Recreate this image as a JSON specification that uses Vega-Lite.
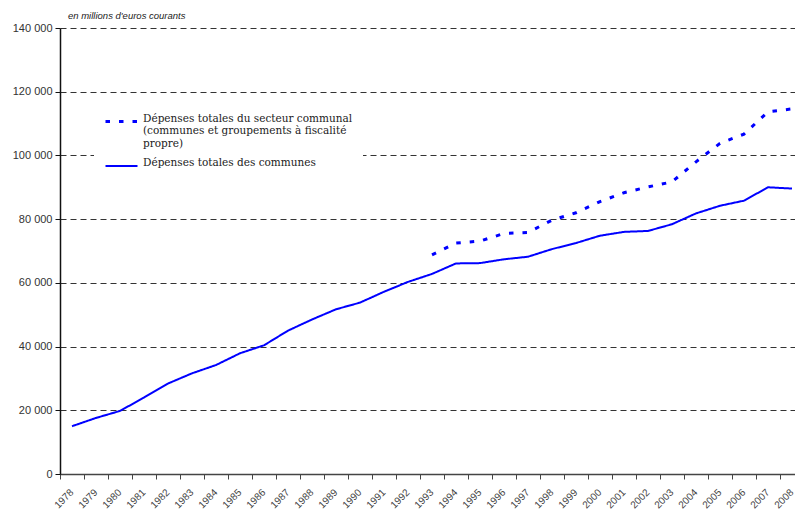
{
  "$schema": "https://vega.github.io/schema/vega-lite/v6.json",
  "width": 735,
  "height": 446,
  "autosize": {"type": "none"},
  "padding": {"left": 60, "top": 28, "right": 0, "bottom": 41},
  "background": "white",
  "config": {
    "view": {"stroke": null},
    "locale": {"number": {"decimal": ",", "thousands": " ", "grouping": [3], "currency": ["", " €"]}}
  },
  "title": {
    "text": "en millions d'euros courants",
    "anchor": "start",
    "frame": "group",
    "fontSize": 9.5,
    "fontStyle": "italic",
    "fontWeight": "normal",
    "font": "Liberation Sans",
    "color": "#222",
    "dx": 8,
    "offset": 2
  },
  "data": {
    "values": [
      {"annee": "1978", "serie": "Dépenses totales des communes", "valeur": 15000},
      {"annee": "1979", "serie": "Dépenses totales des communes", "valeur": 17600},
      {"annee": "1980", "serie": "Dépenses totales des communes", "valeur": 19800},
      {"annee": "1981", "serie": "Dépenses totales des communes", "valeur": 24000},
      {"annee": "1982", "serie": "Dépenses totales des communes", "valeur": 28400},
      {"annee": "1983", "serie": "Dépenses totales des communes", "valeur": 31600},
      {"annee": "1984", "serie": "Dépenses totales des communes", "valeur": 34200},
      {"annee": "1985", "serie": "Dépenses totales des communes", "valeur": 37900},
      {"annee": "1986", "serie": "Dépenses totales des communes", "valeur": 40400},
      {"annee": "1987", "serie": "Dépenses totales des communes", "valeur": 45000},
      {"annee": "1988", "serie": "Dépenses totales des communes", "valeur": 48500},
      {"annee": "1989", "serie": "Dépenses totales des communes", "valeur": 51700},
      {"annee": "1990", "serie": "Dépenses totales des communes", "valeur": 53800},
      {"annee": "1991", "serie": "Dépenses totales des communes", "valeur": 57200},
      {"annee": "1992", "serie": "Dépenses totales des communes", "valeur": 60300},
      {"annee": "1993", "serie": "Dépenses totales des communes", "valeur": 62800},
      {"annee": "1994", "serie": "Dépenses totales des communes", "valeur": 66100},
      {"annee": "1995", "serie": "Dépenses totales des communes", "valeur": 66200},
      {"annee": "1996", "serie": "Dépenses totales des communes", "valeur": 67400},
      {"annee": "1997", "serie": "Dépenses totales des communes", "valeur": 68200},
      {"annee": "1998", "serie": "Dépenses totales des communes", "valeur": 70600},
      {"annee": "1999", "serie": "Dépenses totales des communes", "valeur": 72500},
      {"annee": "2000", "serie": "Dépenses totales des communes", "valeur": 74800},
      {"annee": "2001", "serie": "Dépenses totales des communes", "valeur": 76000},
      {"annee": "2002", "serie": "Dépenses totales des communes", "valeur": 76300},
      {"annee": "2003", "serie": "Dépenses totales des communes", "valeur": 78400},
      {"annee": "2004", "serie": "Dépenses totales des communes", "valeur": 81800},
      {"annee": "2005", "serie": "Dépenses totales des communes", "valeur": 84200},
      {"annee": "2006", "serie": "Dépenses totales des communes", "valeur": 85800},
      {"annee": "2007", "serie": "Dépenses totales des communes", "valeur": 90000},
      {"annee": "2008", "serie": "Dépenses totales des communes", "valeur": 89600},
      {"annee": "1993", "serie": "Dépenses totales du secteur communal", "valeur": 68800},
      {"annee": "1994", "serie": "Dépenses totales du secteur communal", "valeur": 72500},
      {"annee": "1995", "serie": "Dépenses totales du secteur communal", "valeur": 73100},
      {"annee": "1996", "serie": "Dépenses totales du secteur communal", "valeur": 75500},
      {"annee": "1997", "serie": "Dépenses totales du secteur communal", "valeur": 75800},
      {"annee": "1998", "serie": "Dépenses totales du secteur communal", "valeur": 79700},
      {"annee": "1999", "serie": "Dépenses totales du secteur communal", "valeur": 82000},
      {"annee": "2000", "serie": "Dépenses totales du secteur communal", "valeur": 85500},
      {"annee": "2001", "serie": "Dépenses totales du secteur communal", "valeur": 88300},
      {"annee": "2002", "serie": "Dépenses totales du secteur communal", "valeur": 90100},
      {"annee": "2003", "serie": "Dépenses totales du secteur communal", "valeur": 91700},
      {"annee": "2004", "serie": "Dépenses totales du secteur communal", "valeur": 98000},
      {"annee": "2005", "serie": "Dépenses totales du secteur communal", "valeur": 103800},
      {"annee": "2006", "serie": "Dépenses totales du secteur communal", "valeur": 106700},
      {"annee": "2007", "serie": "Dépenses totales du secteur communal", "valeur": 113700},
      {"annee": "2008", "serie": "Dépenses totales du secteur communal", "valeur": 114600}
    ]
  },
  "mark": {"type": "line", "color": "#0000ff", "strokeCap": "butt"},
  "encoding": {
    "x": {
      "field": "annee",
      "type": "ordinal",
      "scale": {"type": "band", "range": [0, 744], "paddingInner": 0, "paddingOuter": 0},
      "axis": {
        "title": null,
        "labelAngle": -45,
        "labelFont": "Liberation Sans",
        "labelFontSize": 10,
        "labelColor": "#444",
        "labelPadding": 8,
        "labelOffset": -4,
        "tickBand": "extent",
        "tickSize": 5,
        "tickColor": "#444",
        "domainColor": "#444",
        "domainWidth": 1.5,
        "grid": false
      }
    },
    "y": {
      "field": "valeur",
      "type": "quantitative",
      "scale": {"domain": [0, 140000], "nice": false},
      "axis": {
        "title": null,
        "values": [0, 20000, 40000, 60000, 80000, 100000, 120000, 140000],
        "format": ",d",
        "labelFont": "Liberation Sans",
        "labelFontSize": 11,
        "labelColor": "#333",
        "labelPadding": 3,
        "tickSize": 5,
        "tickColor": "#111",
        "domainColor": "#111",
        "domainWidth": 1.5,
        "grid": true,
        "gridColor": "#333",
        "gridDash": [6, 4],
        "gridWidth": 1
      }
    },
    "strokeDash": {
      "field": "serie",
      "type": "nominal",
      "scale": {
        "domain": ["Dépenses totales du secteur communal", "Dépenses totales des communes"],
        "range": [[4.5, 9], [1, 0]]
      },
      "legend": {
        "title": null,
        "orient": "none",
        "legendX": 34,
        "legendY": 66,
        "padding": 10,
        "fillColor": "white",
        "symbolType": "stroke",
        "symbolSize": 1024,
        "symbolStrokeColor": "#0000ff",
        "symbolStrokeWidth": 3,
        "labelFont": "DejaVu Serif",
        "labelFontSize": 10.5,
        "labelColor": "#222",
        "labelLimit": 400,
        "labelOffset": 4,
        "labelBaseline": "alphabetic",
        "rowPadding": -10,
        "labelExpr": "datum.label == 'Dépenses totales du secteur communal' ? ['Dépenses totales du secteur communal', '(communes et groupements à fiscalité', 'propre)'] : datum.label"
      }
    },
    "strokeWidth": {
      "field": "serie",
      "type": "nominal",
      "scale": {
        "domain": ["Dépenses totales du secteur communal", "Dépenses totales des communes"],
        "range": [3, 2]
      },
      "legend": null
    }
  }
}
